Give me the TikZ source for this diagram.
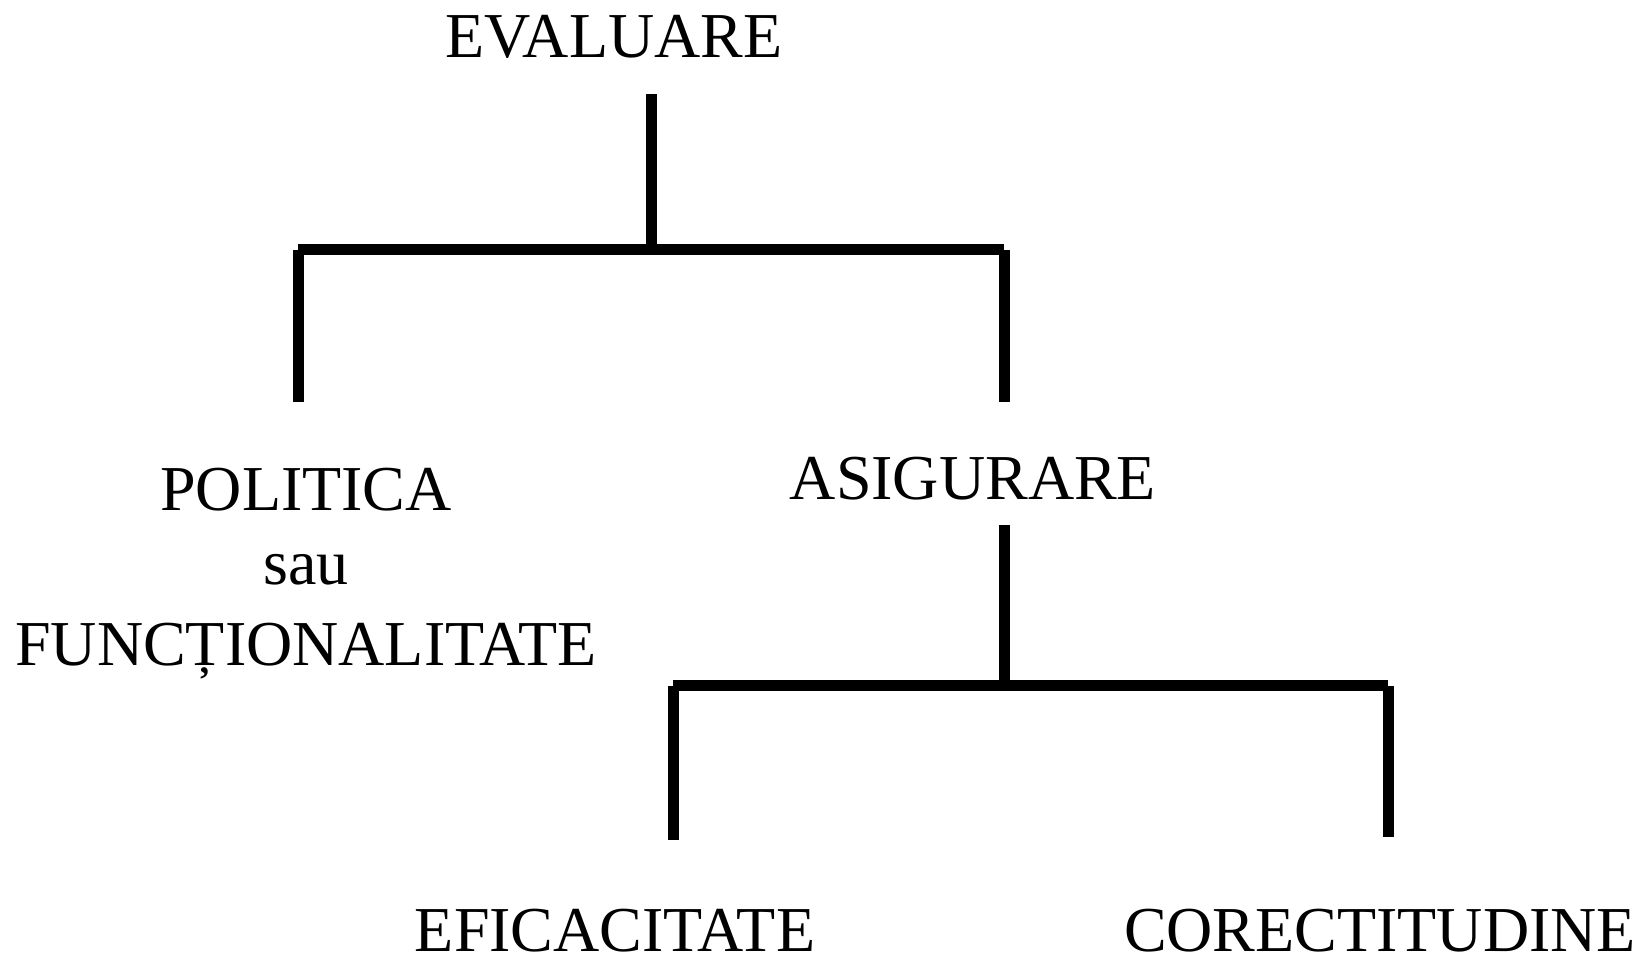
\documentclass[tikz,border=0pt]{standalone}
\usepackage{fontspec}
\setmainfont{Liberation Serif}
\begin{document}
\begin{tikzpicture}[x=0.5pt,y=-0.5pt,
  lbl/.style={inner sep=0pt,anchor=base,font=\fontsize{32pt}{38pt}\selectfont},
  branch/.style={line width=5.5pt,line cap=butt}]
\useasboundingbox (0,0) rectangle (1646,956);

% labels
\node[lbl] (ev)   at (614,58)  {EVALUARE};
\node[lbl] (pol)  at (306,511) {POLITICA};
\node[lbl] (sau)  at (306,585) {sau};
\node[lbl] (fun)  at (306,666) {FUNCȚIONALITATE};
\node[lbl] (as)   at (973,500) {ASIGURARE};
\node[lbl] (efi)  at (615,952) {EFICACITATE};
\node[lbl] (cor)  at (1380,952) {CORECTITUDINE};

% junction points of the first bracket
\coordinate (t1) at (651,94);
\coordinate (j1) at (651,250);
\coordinate (l1) at (298,250);
\coordinate (r1) at (1004,250);
\coordinate (le1) at (298,402);
\coordinate (re1) at (1004,402);

% junction points of the second bracket
\coordinate (t2) at (1004,525);
\coordinate (j2) at (1004,682);
\coordinate (l2) at (673,686);
\coordinate (r2) at (1388,686);
\coordinate (le2) at (673,840);
\coordinate (re2) at (1388,837);

% first bracket
\draw[branch] (t1) -- (j1);
\draw[branch] (l1) -- (r1);
\draw[branch] (l1) -- (le1);
\draw[branch] (r1) -- (re1);

% second bracket
\draw[branch] (t2) -- (j2);
\draw[branch] (l2) -- (r2);
\draw[branch] (l2) -- (le2);
\draw[branch] (r2) -- (re2);
\end{tikzpicture}
\end{document}
